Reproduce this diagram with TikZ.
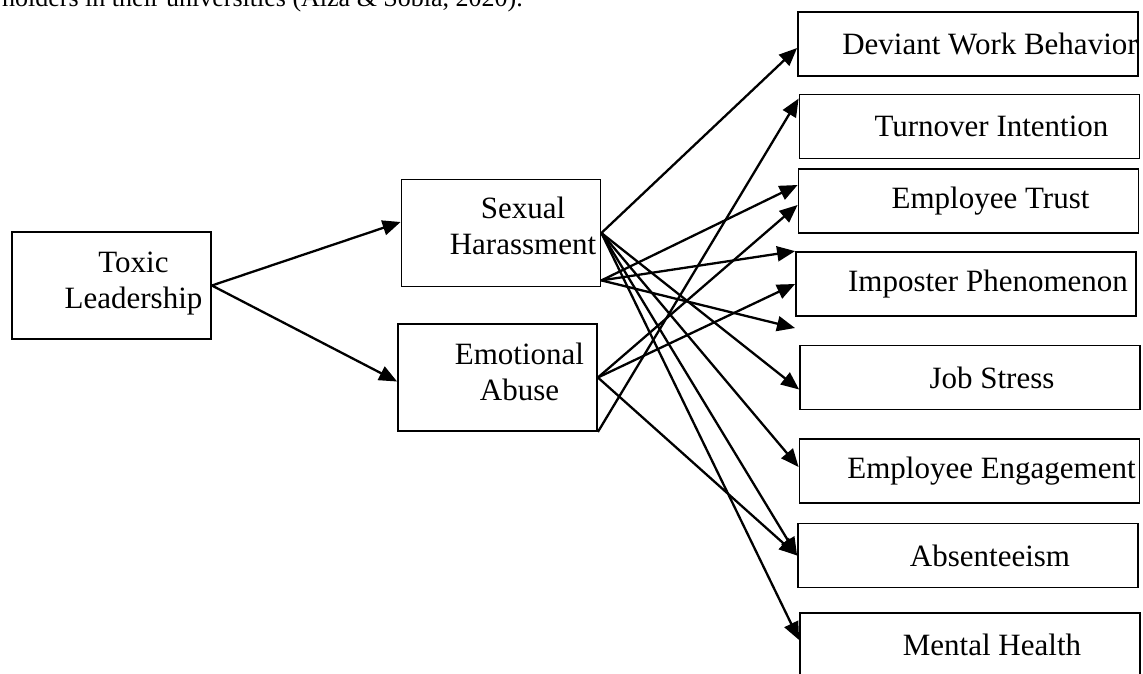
\documentclass[tikz,border=0pt]{standalone}
\usepackage{fontspec}
\setmainfont{Liberation Serif}
\usetikzlibrary{arrows.meta}

\tikzset{
  box/.style={draw, line width=1.8pt, inner sep=0pt},
  leftbox/.style={box, minimum width=199pt, minimum height=107pt},
  rightbox/.style={box, minimum width=340pt, minimum height=64pt},
  lbl/.style={font=\fontsize{31}{36}\selectfont, align=center, inner sep=0pt},
  arr/.style={-{Triangle[length=18pt,width=15pt]}, line width=2.3pt},
}

\begin{document}
\begin{tikzpicture}[x=1pt,y=-1pt]
  \useasboundingbox (0,0) rectangle (1143,673);
  \clip (0,0) rectangle (1143,673);
  % line of the text above the figure
  \node[anchor=base west, inner sep=0pt, font=\fontsize{26}{30}\selectfont] (intro)
    at (2,6) {holders in their universities (Aiza \& Sobia, 2020).};
  % left column
  \node[leftbox] (tl) at (111.5,285.5) {};
  \node[lbl] (tl-t) at ([xshift=22pt,yshift=2pt]tl.center) {Toxic\\Leadership};
  \node[leftbox] (sh) at (501,233) {};
  \node[lbl] (sh-t) at ([xshift=22pt,yshift=7pt]sh.center) {Sexual\\Harassment};
  \node[leftbox] (ea) at (497.5,377.5) {};
  \node[lbl] (ea-t) at ([xshift=22pt,yshift=6pt]ea.center) {Emotional\\Abuse};
  % outcomes
  \node[rightbox] (dwb) at (968,44) {};
  \node[lbl] (dwb-t) at ([xshift=22pt]dwb.center) {Deviant Work Behavior};
  \node[rightbox] (ti) at (969.5,126.5) {};
  \node[lbl] (ti-t) at ([xshift=22pt]ti.center) {Turnover Intention};
  \node[rightbox] (et) at (968.5,201) {};
  \node[lbl] (et-t) at ([xshift=22pt]et.center) {Employee Trust};
  \node[rightbox] (ip) at (966,284) {};
  \node[lbl] (ip-t) at ([xshift=22pt]ip.center) {Imposter Phenomenon};
  \node[rightbox] (js) at (970,377.5) {};
  \node[lbl] (js-t) at ([xshift=22pt]js.center) {Job Stress};
  \node[rightbox] (ee) at (969.5,471) {};
  \node[lbl] (ee-t) at ([xshift=22pt]ee.center) {Employee Engagement};
  \node[rightbox] (ab) at (968,555.5) {};
  \node[lbl] (ab-t) at ([xshift=22pt]ab.center) {Absenteeism};
  \node[rightbox] (mh) at (970,645) {};
  \node[lbl] (mh-t) at ([xshift=22pt]mh.center) {Mental Health};
  \coordinate (shb) at ([yshift=7pt]sh.south east);
  \coordinate (gap) at (795,328);
  % arrows
  \draw[arr] (tl.east) -- ([yshift=11pt]sh.west);
  \draw[arr] (tl.east) -- ([yshift=-4pt]ea.west);
  \draw[arr] (sh.east) -- ([yshift=-4pt]dwb.west);
  \draw[arr] (sh.east) -- ([yshift=-12pt]js.west);
  \draw[arr] (sh.east) -- ([yshift=4pt]ee.west);
  \draw[arr] (sh.east) -- (ab.west);
  \draw[arr] (sh.east) -- ([yshift=5pt]mh.west);
  \draw[arr] (shb) -- ([yshift=16pt]et.west);
  \draw[arr] (shb) -- (ip.north west);
  \draw[arr] (shb) -- (gap);
  \draw[arr] (ea.east) -- ([yshift=-4pt]et.west);
  \draw[arr] (ea.east) -- (ip.west);
  \draw[arr] (ea.east) -- (ab.west);
  \draw[arr] (ea.south east) -- ([yshift=-5pt]ti.north west);
\end{tikzpicture}
\end{document}
